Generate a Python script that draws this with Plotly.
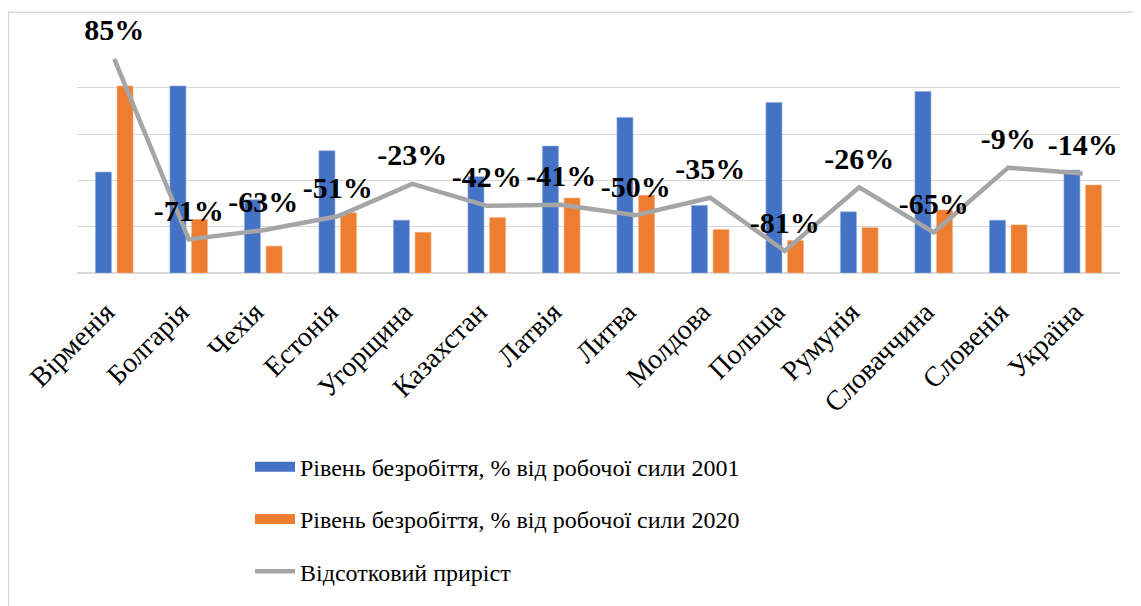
import plotly.graph_objects as go

# Countries
countries = ["Вірменія", "Болгарія", "Чехія", "Естонія", "Угорщина", "Казахстан", "Латвія",
             "Литва", "Молдова", "Польща", "Румунія", "Словаччина", "Словенія", "Україна"]

# Unemployment, % of labour force
unemp_2001 = [10.9, 20.2, 7.9, 13.2, 5.7, 10.4, 13.7, 16.8, 7.3, 18.4, 6.6, 19.6, 5.7, 11.1]
unemp_2020 = [20.2, 5.8, 2.9, 6.5, 4.4, 6.0, 8.1, 8.4, 4.7, 3.5, 4.9, 6.8, 5.2, 9.5]

# Percentage change
growth = [85, -71, -63, -51, -23, -42, -41, -50, -35, -81, -26, -65, -9, -14]
growth_labels = [f"{g}%" for g in growth]

SERIF = "Liberation Serif, Times New Roman, serif"
BLUE = "#4472C4"
ORANGE = "#ED7D31"
GREY = "#A5A5A5"

# the page body adds an 8px margin, so the figure is 8px smaller
W, H = 1133, 598

fig = go.Figure()

fig.add_trace(go.Bar(
    x=countries, y=unemp_2001,
    name="Рівень безробіття, % від робочої сили 2001",
    marker=dict(color=BLUE, line=dict(color="#8FAADC", width=0.6)),
    showlegend=False,
))
fig.add_trace(go.Bar(
    x=countries, y=unemp_2020,
    name="Рівень безробіття, % від робочої сили 2020",
    marker=dict(color=ORANGE, line=dict(color="#F4B183", width=0.6)),
    showlegend=False,
))
fig.add_trace(go.Scatter(
    x=countries, y=growth, yaxis="y2",
    name="Відсотковий приріст",
    mode="lines+markers+text",
    line=dict(color=GREY, width=4.5),
    marker=dict(size=16, color="rgba(0,0,0,0)", line=dict(width=0)),
    text=growth_labels,
    textposition="top center",
    textfont=dict(family=SERIF, size=30, color="black", weight="bold"),
    cliponaxis=False,
    showlegend=False,
))

# legend entries (Excel-style wide swatches)
for name, color, lw, grp in [
    ("Рівень безробіття, % від робочої сили 2001", BLUE, 17, "a"),
    ("Рівень безробіття, % від робочої сили 2020", ORANGE, 17, "b"),
    ("Відсотковий приріст", GREY, 4.5, "c"),
]:
    fig.add_trace(go.Scatter(
        x=[None], y=[None], mode="lines", name=name,
        line=dict(color=color, width=lw), legendgroup=grp,
    ))

fig.update_layout(
    width=W, height=H,
    margin=dict(l=69, r=21, t=33, b=330),
    paper_bgcolor="white",
    plot_bgcolor="white",
    font=dict(family=SERIF, color="black"),
    barmode="group",
    bargap=0.42,
    bargroupgap=0.26,
    xaxis=dict(
        range=[-0.5, len(countries) - 0.5],
        tickangle=-45,
        tickfont=dict(family=SERIF, size=28, color="black"),
        showline=False,
        ticks="",
        ticklabelstandoff=16,
        ticklabelshift=-8,
    ),
    yaxis=dict(
        range=[0, 25.05], dtick=5,
        showticklabels=False,
        showgrid=True, gridcolor="#D9D9D9", gridwidth=1.3,
        zeroline=True, zerolinecolor="#D9D9D9", zerolinewidth=1.5,
    ),
    yaxis2=dict(
        range=[-100, 100.4], overlaying="y", side="right",
        showticklabels=False, showgrid=False, zeroline=False,
    ),
    legend=dict(
        x=(250 - 77) / 1043, y=-0.74, xanchor="left", yanchor="top",
        font=dict(family=SERIF, size=24, color="black"),
        tracegroupgap=18,
        itemwidth=40,
        bgcolor="rgba(0,0,0,0)",
    ),
    showlegend=True,
    shapes=[dict(
        type="rect", xref="paper", yref="paper",
        x0=-68.5 / 1043, x1=1.1, y0=-2, y1=1 + 29 / 235,
        line=dict(color="#D9D9D9", width=1.5),
        layer="below",
    )],
)

fig.write_html("out.html")
